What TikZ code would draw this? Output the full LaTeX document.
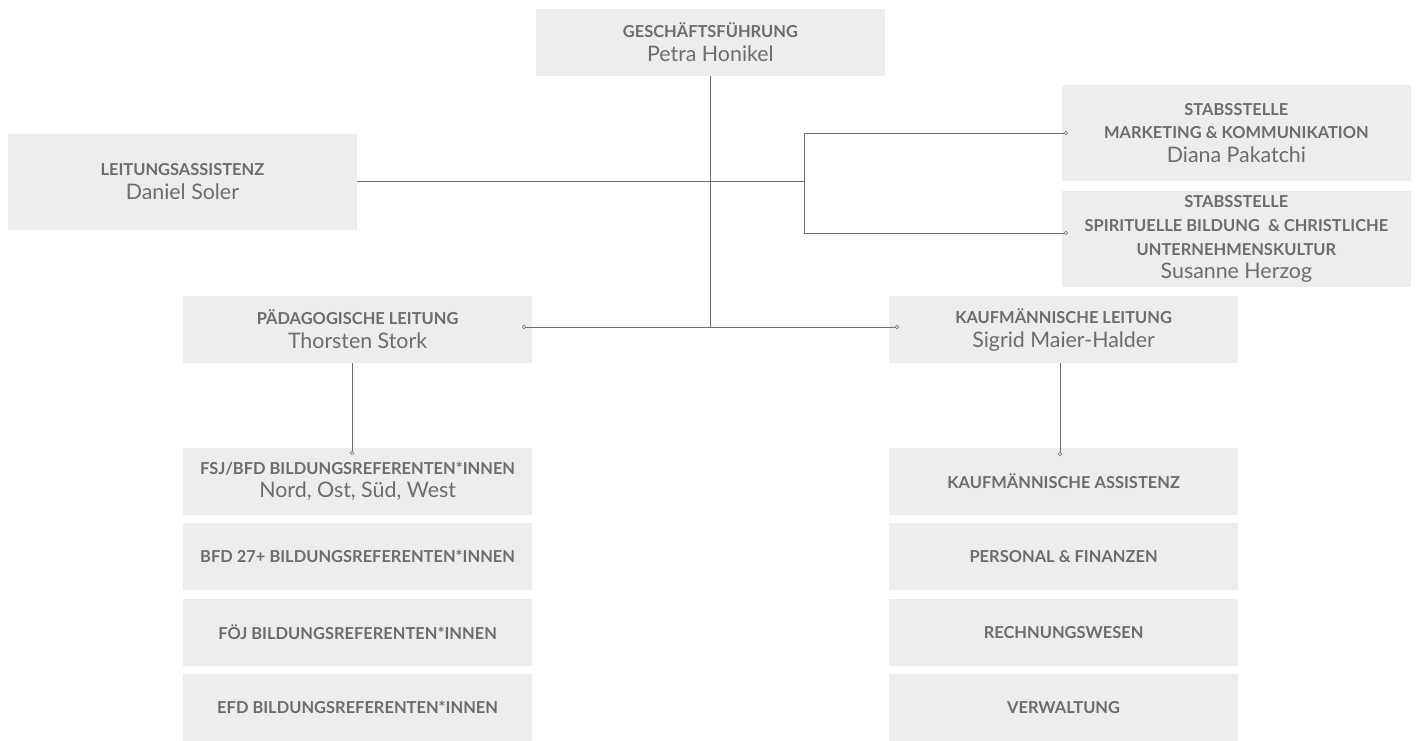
\documentclass[tikz,border=0pt]{standalone}
\usepackage{fontspec}
\setmainfont{Lato}
\usetikzlibrary{positioning, calc}
\definecolor{boxgray}{HTML}{ECEDEC}
\definecolor{textgray}{HTML}{6B6C6D}
\definecolor{linegray}{HTML}{6E6E6E}
\newcommand{\orgname}[1]{{\mdseries\fontsize{15.2}{17}\selectfont #1}}

\begin{document}
\begin{tikzpicture}[
  box/.style={rectangle, fill=boxgray, minimum width=8.72cm, minimum height=1.68cm, inner sep=0pt, align=center, text=textgray, font=\bfseries\fontsize{11.7}{17}\selectfont},
  tallbox/.style={box, minimum height=2.42cm},
  link/.style={draw=linegray, line width=0.6pt},
  dot/.style={draw=linegray, fill=boxgray, line width=0.4pt}
]
  \useasboundingbox (0,0) rectangle (35.4,-18.5);

  \node[box] (gf) at (17.76,-1.06) {GESCHÄFTSFÜHRUNG\\\orgname{Petra Honikel}};
  \node[tallbox] (assist) at (4.56,-4.55) {LEITUNGSASSISTENZ\\\orgname{Daniel Soler}};
  \node[tallbox] (stabmk) at (30.91,-3.325) {STABSSTELLE\\MARKETING \& KOMMUNIKATION\\\orgname{Diana Pakatchi}};
  \node[tallbox] (stabsb) at (30.91,-5.975) {STABSSTELLE\\SPIRITUELLE BILDUNG~~\& CHRISTLICHE\\UNTERNEHMENSKULTUR\\\orgname{Susanne Herzog}};
  \node[box] (paed) at (8.94,-8.24) {PÄDAGOGISCHE LEITUNG\\\orgname{Thorsten Stork}};
  \node[box] (kfm) at (26.59,-8.24) {KAUFMÄNNISCHE LEITUNG\\\orgname{Sigrid Maier-Halder}};

  \node[box] (fsj) at (8.94,-12.03) {FSJ/BFD BILDUNGSREFERENTEN*INNEN\\\orgname{Nord, Ost, Süd, West}};
  \node[box] (bfd) at (8.94,-13.92) {BFD 27+ BILDUNGSREFERENTEN*INNEN};
  \node[box] (foej) at (8.94,-15.81) {FÖJ BILDUNGSREFERENTEN*INNEN};
  \node[box] (efd) at (8.94,-17.69) {EFD BILDUNGSREFERENTEN*INNEN};

  \node[box] (kasst) at (26.59,-12.03) {KAUFMÄNNISCHE ASSISTENZ};
  \node[box] (persfin) at (26.59,-13.92) {PERSONAL \& FINANZEN};
  \node[box] (rechn) at (26.59,-15.81) {RECHNUNGSWESEN};
  \node[box] (verw) at (26.59,-17.69) {VERWALTUNG};

  \coordinate (brk) at (20.1,-4.525);
  \coordinate (dotP) at (13.1,-8.175);
  \coordinate (dotK) at (22.425,-8.175);
  \coordinate (dotS1) at (26.65,-3.325);
  \coordinate (dotS2) at (26.65,-5.825);
  \coordinate (dotF) at (8.8,-11.325);
  \coordinate (dotKA) at (26.5,-11.35);

  \draw[link] (gf.south) -- (gf.south |- dotP);
  \draw[link] (assist.east |- brk) -- (brk);
  \draw[link] (dotS1) -| (brk) |- (dotS2);
  \draw[link] (dotP) -- (dotK);
  \draw[link] (dotF |- paed.south) -- (dotF);
  \draw[link] (dotKA |- kfm.south) -- (dotKA);
  \foreach \d in {dotP, dotK, dotS1, dotS2, dotF, dotKA}
    \draw[dot] (\d) circle (0.045);
\end{tikzpicture}
\end{document}
